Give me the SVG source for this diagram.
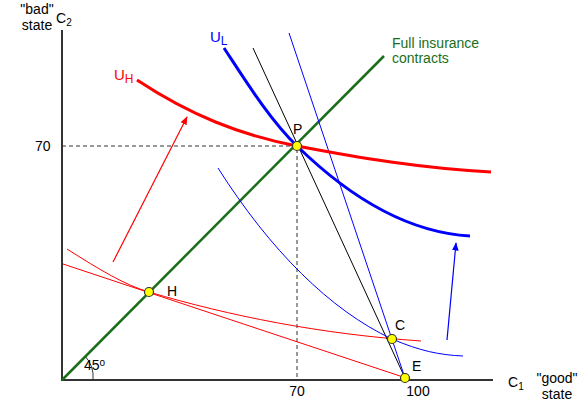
<svg xmlns="http://www.w3.org/2000/svg" width="584" height="403" viewBox="0 0 584 403">
<defs>
<style>
text{font-family:"Liberation Sans",Arial,sans-serif;font-size:14px;fill:#000}
.thin{fill:none;stroke-width:1}
.thick{fill:none;stroke-width:3}
.pt{fill:#ffff00;stroke:#333;stroke-width:1.2}
</style>
<marker id="ar" viewBox="0 0 10 10" refX="9" refY="5" markerWidth="7" markerHeight="7" orient="auto"><path d="M0,1 L10,5 L0,9 Z" fill="#f00"/></marker>
<marker id="ab" viewBox="0 0 10 10" refX="9" refY="5" markerWidth="7" markerHeight="7" orient="auto"><path d="M0,1 L10,5 L0,9 Z" fill="#00f"/></marker>
</defs>
<rect width="584" height="403" fill="#fff"/>
<g id="axes">
<path d="M62,30 V380 H493" fill="none" stroke="#333" stroke-width="2"/>
<path d="M62,146 H297 V380" fill="none" stroke="#333" stroke-width="1" stroke-dasharray="4,3"/>
<path d="M85,356 A31,31 0 0 1 93,380" fill="none" stroke="#333" stroke-width="1"/>
</g>
<g id="connectors">
<path d="M62,380 L384,56" fill="none" stroke="#1a6e1a" stroke-width="2.5"/>
<path d="M63,264 L403,377" class="thin" stroke="#f00"/>
<path d="M67,249 C100,270 125,285 149,292 C230,316 320,334 421,341" class="thin" stroke="#f00"/>
<path d="M253,48 L405,378" class="thin" stroke="#000"/>
<path d="M289,33 L405,378" class="thin" stroke="#00f"/>
<path d="M218,168 C270,250 330,310 392,339 C420,351 440,355 463,356" class="thin" stroke="#00f"/>
<path d="M137,80 C190,115 240,135 297,146 C360,158 420,168 491,172" class="thick" stroke="#f00"/>
<path d="M224,48 C245,80 270,120 297,146 C340,188 400,232 470,236" class="thick" stroke="#00f"/>
<path d="M113,262 L187,117" stroke="#f00" stroke-width="1.2" marker-end="url(#ar)"/>
<path d="M447,340 L456,243" stroke="#00f" stroke-width="1.2" marker-end="url(#ab)"/>
</g>
<g id="P"><circle cx="297" cy="146" r="4.5" class="pt"/><text x="293" y="134">P</text></g>
<g id="H"><circle cx="149" cy="292" r="4.5" class="pt"/><text x="167" y="296">H</text></g>
<g id="C"><circle cx="392" cy="339" r="4.5" class="pt"/><text x="395" y="330">C</text></g>
<g id="E"><circle cx="405" cy="378" r="4.5" class="pt"/><text x="412" y="371">E</text></g>
<g id="labels">
<text x="37" y="14" text-anchor="middle">"bad"</text>
<text x="37" y="30" text-anchor="middle">state</text>
<text x="56" y="23">C<tspan font-size="10" dy="3">2</tspan></text>
<text x="508" y="387">C<tspan font-size="10" dy="3">1</tspan></text>
<text x="557" y="383" text-anchor="middle">"good"</text>
<text x="557" y="399" text-anchor="middle">state</text>
<text x="35" y="151">70</text>
<text x="297" y="396" text-anchor="middle">70</text>
<text x="418" y="396" text-anchor="middle">100</text>
<text x="84" y="370">45<tspan font-size="10" dy="-4">o</tspan></text>
<text x="114" y="80" style="fill:#f00;font-size:15px">U<tspan font-size="12" dy="3" fill="#f00">H</tspan></text>
<text x="210" y="42" style="fill:#00f;font-size:15px">U<tspan font-size="12" dy="3" fill="#00f">L</tspan></text>
<text x="392" y="48" style="fill:#1a6e1a">Full insurance</text>
<text x="392" y="63" style="fill:#1a6e1a">contracts</text>
</g>
</svg>
